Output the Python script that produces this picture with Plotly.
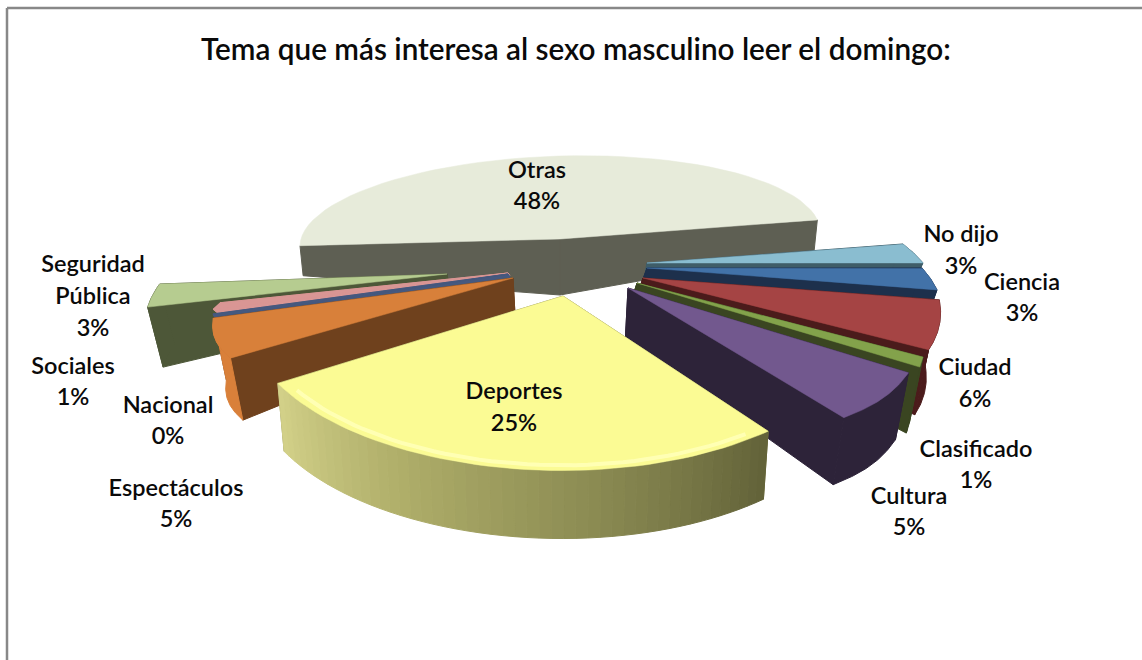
import math
import plotly.graph_objects as go

title = "Tema que más interesa al sexo masculino leer el domingo:"
categories = ["Otras", "No dijo", "Ciencia", "Ciudad", "Clasificado", "Cultura",
              "Deportes", "Espectáculos", "Nacional", "Sociales", "Seguridad Pública"]
values = [47.6, 3, 3, 6, 1, 5, 25, 5, 0.4, 1, 3]

START_BEARING = -89.6

# layout of every slice: apex, ellipse terms, wall depth, colours
geom = {
 "Otras":   dict(a=(560,239), rx=260, sx=0,   sy=-7.3, ry=83,  k=0,    dr=30, da=56, top="#E7EBDA", wall="#5E5F53", rim="#5E5F53", lean=.012),
 "No dijo": dict(a=(647,263), rx=272, sx=-93, sy=-4.6, ry=101, k=0,    dr=30, da=20, top="#8ABDD0", wall="#3F5D68", rim="#3F5D68", lean=.0375),
 "Ciencia": dict(a=(647,268), rx=270, sx=-118,sy=-5.3, ry=117, k=0,    dr=40, da=9,  top="#4272A8", wall="#1D304C", rim="#1D304C", lean=.0375),
 "Ciudad":  dict(a=(643,278), rx=282, sx=-95, sy=-11,  ry=141, k=0,    dr=65, da=9,  top="#A54444", wall="#4B1B1B", rim="#4B1B1B", lean=.0375),
 "Clasificado": dict(a=(637,283), rx=258, sx=-130, sy=-32, ry=175, k=0, dr=66, da=9, top="#83A24B", wall="#3A4521", rim="#3A4521", lean=.0375),
 "Cultura": dict(a=(628,288), rx=322, sx=-46, sy=-32.7,ry=177, k=.015, dr=67, da=49, top="#72588E", wall="#2D2339", rim="#2D2339", lean=.0375),
 "Deportes":dict(a=(563,296), rx=351, sx=-14, sy=1.6,  ry=161, k=.09,  dr=68, da=20, top="#FBFB94", wall="#8E8D55", rim=None, lean=.0225),
 "Espectáculos": dict(a=(513,278), rx=291, sx=72, sy=-2.3, ry=142, k=.01, dr=62, da=32, top="#D8803A", wall="#6F411D", rim="#D9803A", lean=.0375),
 "Nacional": dict(a=(508,274), rx=304, sx=0, sy=0, ry=165, k=0, dr=10, da=3, top="#46597F", wall="#46597F", rim="#46597F", lean=.0375),
 "Sociales": dict(a=(508,273), rx=261, sx=172, sy=-10, ry=110, k=0, dr=10, da=3, top="#D99694", wall="#D99694", rim="#D99694", lean=.0375),
 "Seguridad Pública": dict(a=(447,274), rx=288, sx=89, sy=-10.9, ry=124, k=0, dr=60, da=25, top="#B6CC90", wall="#4D5738", rim="#4D5738", lean=.0375),
}

draw_order = ["Otras", "Seguridad Pública", "Sociales", "Nacional", "Espectáculos",
              "No dijo", "Ciencia", "Ciudad", "Clasificado", "Cultura", "Deportes"]

# label text lines and their placement
label_lines = {"Seguridad Pública": ["Seguridad", "Pública"]}
label_pos = {
 "Otras": (537, [172, 203]),
 "No dijo": (961, [236, 268]),
 "Ciencia": (1022, [284, 315]),
 "Ciudad": (975, [369, 401]),
 "Clasificado": (976, [451, 482]),
 "Cultura": (909, [498, 529]),
 "Deportes": (514, [393, 425]),
 "Espectáculos": (176, [490, 521]),
 "Nacional": (168, [407, 438]),
 "Sociales": (73, [368, 399]),
 "Seguridad Pública": (93, [266, 298, 330]),
}

total = sum(values)
spans = {}
b = START_BEARING
for c, v in zip(categories, values):
    spans[c] = (b, b + v / total * 360)
    b = spans[c][1]


def rim_point(g, bearing, t):
    r = math.radians(bearing)
    s, co = math.sin(r), math.cos(r)
    f = 1 + g["k"] * math.sin(math.pi * t)
    return (g["a"][0] + (g["rx"] * s + g["sx"] * co) * f,
            g["a"][1] + (g["sy"] * s - g["ry"] * co) * f)


def rim(c, n=48):
    b1, b2 = spans[c]
    return [rim_point(geom[c], b1 + (b2 - b1) * i / n, i / n) for i in range(n + 1)]


def drop(g, p, depth):
    return (p[0] + (560 - p[0]) * g["lean"], p[1] + depth)


fig = go.Figure()


def poly(pts, color, lw=0):
    xs = [p[0] for p in pts] + [pts[0][0]]
    ys = [p[1] for p in pts] + [pts[0][1]]
    fig.add_trace(go.Scatter(x=xs, y=ys, mode="lines", fill="toself", fillcolor=color,
                             line=dict(color=color, width=lw), hoverinfo="skip", showlegend=False))


def lerp_hex(stops, t):
    n = len(stops) - 1
    i = min(int(t * n), n - 1)
    u = t * n - i
    a = stops[i]
    b_ = stops[i + 1]
    ca = [int(a[j:j + 2], 16) for j in (1, 3, 5)]
    cb = [int(b_[j:j + 2], 16) for j in (1, 3, 5)]
    return "#%02x%02x%02x" % tuple(round(x + (y - x) * u) for x, y in zip(ca, cb))


for c in draw_order:
    g = geom[c]
    pts = rim(c)
    apex = g["a"]
    first, last = pts[0], pts[-1]
    apex_low = drop(g, apex, g["da"])
    wall_first = [apex, first, drop(g, first, g["dr"]), apex_low]
    wall_last = [apex, last, drop(g, last, g["dr"]), apex_low]
    mid = sum(spans[c]) / 2
    on_right = 0 < mid < 180
    if c == "Otras":
        poly(wall_first, g["wall"], 1)
        poly(wall_last, g["wall"], 1)
    else:
        poly(wall_first if on_right else wall_last, g["wall"], 1)
        poly(wall_last if on_right else wall_first, g["wall"], 1)
        if c == "Deportes":
            stops = ["#636339", "#8A8A52", "#ADAC68", "#D2D088"]
            for i in range(len(pts) - 1):
                p, q = pts[i], pts[i + 1]
                poly([p, q, drop(g, q, g["dr"]), drop(g, p, g["dr"])],
                     lerp_hex(stops, i / (len(pts) - 2)), 1)
        else:
            poly(pts + [drop(g, p, g["dr"]) for p in reversed(pts)], g["rim"], 1)
    poly([apex] + pts, g["top"], 0.5)
    if c == "Deportes":
        inner = [(apex[0] + (p[0] - apex[0]) * 0.97, apex[1] + (p[1] - apex[1]) * 0.97) for p in pts[2:-2]]
        fig.add_trace(go.Scatter(x=[p[0] for p in inner], y=[p[1] for p in inner], mode="lines",
                                 line=dict(color="#FFFFB4", width=4), hoverinfo="skip", showlegend=False))

# text labels
tx, ty, tt = [], [], []
for c, v in zip(categories, values):
    x, ys = label_pos[c]
    lines = label_lines.get(c, [c]) + [f"{round(v / total * 100)}%"]
    for line, y in zip(lines, ys):
        tx.append(x)
        ty.append(y)
        tt.append(line)
fig.add_trace(go.Scatter(x=tx, y=ty, text=tt, mode="text", textposition="middle center",
                         textfont=dict(family="Lato", size=23.5, color="#0a0a0a", weight=600),
                         hoverinfo="skip", showlegend=False))

fig.add_annotation(x=576, y=48, xref="x", yref="y", text=title, showarrow=False,
                   font=dict(family="Lato", size=29.7, color="#0a0a0a", weight=600))

frame = dict(type="line", xref="x", yref="y", line=dict(color="#888888", width=2.5))
fig.add_shape(x0=7, x1=7, y0=8, y1=660, **frame)
fig.add_shape(x0=7, x1=1142, y0=8, y1=8, **frame)

fig.update_layout(width=1142, height=660, margin=dict(l=0, r=0, t=0, b=0),
                  paper_bgcolor="white", plot_bgcolor="white", showlegend=False,
                  xaxis=dict(range=[0, 1142], visible=False, fixedrange=True),
                  yaxis=dict(range=[660, 0], visible=False, fixedrange=True))

fig.write_html("out.html", config=dict(displayModeBar=False),
               post_script="document.body.style.margin='0';document.body.style.overflow='hidden';")
